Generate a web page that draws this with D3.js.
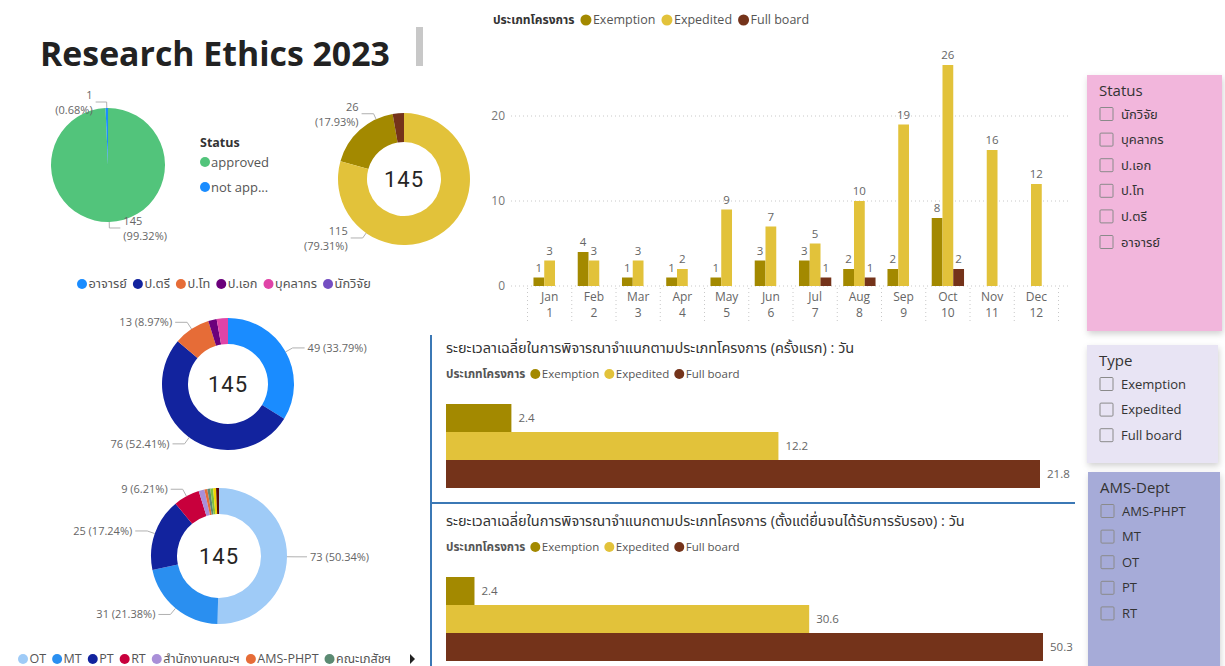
<!DOCTYPE html>
<html><head><meta charset="utf-8">
<script src="https://cdn.jsdelivr.net/npm/d3@7"></script>
<style>
body{margin:0;background:#fff;}
svg{display:block;}
</style></head><body>
<svg id="c" width="1225" height="666"></svg>
<script>
// ---------------- DATA ----------------
const statusNames = ["approved", "not app..."];
const statusCounts = [145, 1];

const typeNames = ["Exemption", "Expedited", "Full board"];
const typeCounts = [26, 115, 4];

const personNames = ["อาจารย์", "ป.ตรี", "ป.โท", "ป.เอก", "บุคลากร", "นักวิจัย"];
const personCounts = [49, 76, 13, 3, 4, 0];

const deptNames = ["OT", "MT", "PT", "RT", "สำนักงานคณะฯ", "AMS-PHPT", "คณะเภสัชฯ", "อื่นๆ 1", "อื่นๆ 2", "อื่นๆ 3"];
const deptCounts = [73, 31, 25, 9, 2, 1, 1, 1, 1, 1];
const deptLegendShown = 7;

const monthNames = ["Jan","Feb","Mar","Apr","May","Jun","Jul","Aug","Sep","Oct","Nov","Dec"];
const monthNums = ["1","2","3","4","5","6","7","8","9","10","11","12"];
const exemptionByMonth = [1, 4, 1, 1, 1, 3, 3, 2, 2, 8, 0, 0];
const expeditedByMonth = [3, 3, 3, 2, 9, 7, 5, 10, 19, 26, 16, 12];
const fullBoardByMonth = [0, 0, 0, 0, 0, 0, 1, 1, 0, 2, 0, 0];
const yTicks = [0, 10, 20];

const avgFirstReview = [2.4, 12.2, 21.8];
const avgToApproval = [2.4, 30.6, 50.3];

const slicerStatusItems = ["นักวิจัย", "บุคลากร", "ป.เอก", "ป.โท", "ป.ตรี", "อาจารย์"];
const slicerTypeItems = ["Exemption", "Expedited", "Full board"];
const slicerDeptItems = ["AMS-PHPT", "MT", "OT", "PT", "RT"];

// ---------------- STYLE ----------------
const FONT = "'Open Sans','Noto Sans','Noto Sans Thai',Tahoma,sans-serif";
const NUM = "'Open Sans','Noto Sans',sans-serif";
const statusColors = ["#52c47b", "#1a8cff"];
const typeColors = {"Exemption": "#a38900", "Expedited": "#e2c23a", "Full board": "#74331a"};
const personColors = ["#1a8cff", "#12239e", "#e66c37", "#6b007b", "#e044a7", "#744ec2"];
const deptColors = ["#9fcbf7", "#2a8ff0", "#12239e", "#c8003c", "#a98fd8", "#e66c37", "#5b8a72", "#7fc241", "#f2d600", "#5a0a0a"];

const svg = d3.select("#c");
const defs = svg.append("defs");
const sh = defs.append("filter").attr("id","sh").attr("x","-10%").attr("y","-10%").attr("width","130%").attr("height","130%");
sh.append("feDropShadow").attr("dx",1).attr("dy",3).attr("stdDeviation",3).attr("flood-color","#000").attr("flood-opacity",0.18);

// ---------------- TITLE ----------------
const title = svg.append("text").attr("x", 40).attr("y", 66)
  .attr("font-family", FONT).attr("font-weight", 700).attr("font-size", 32)
  .attr("fill", "#222").text("Research Ethics 2023");
const tl = title.node().getComputedTextLength();
title.attr("font-size", 32 * 350 / tl);
svg.append("rect").attr("x", 416).attr("y", 27).attr("width", 7).attr("height", 39).attr("fill", "#c8c8c8");

// ---------------- DONUT HELPER ----------------
const pct = d3.format(".2%");
function drawDonut(cfg) {
  const g = svg.append("g").attr("transform", `translate(${cfg.cx},${cfg.cy})`);
  const data = cfg.names.map((n, i) => ({n, v: cfg.values[i], c: cfg.colors[i]}));
  const pie = d3.pie().value(d => d.v).sort(cfg.sortDesc ? (a, b) => b.v - a.v : null);
  const arcs = pie(data);
  const arc = d3.arc().innerRadius(cfg.r0).outerRadius(cfg.r1);
  g.selectAll("path").data(arcs).join("path").attr("d", arc).attr("fill", d => d.data.c);
  const total = d3.sum(cfg.values);
  arcs.forEach(a => {
    const p = a.data.v / total;
    if (p < cfg.minPct) return;
    let ang = (a.startAngle + a.endAngle) / 2;
    if (cfg.angleOverride && cfg.angleOverride[a.data.n] != null) ang = cfg.angleOverride[a.data.n] * Math.PI / 180;
    const s = Math.sin(ang), c = -Math.cos(ang);
    const p1 = [s * cfg.r1, c * cfg.r1];
    const p2 = [s * (cfg.r1 + cfg.ext), c * (cfg.r1 + cfg.ext)];
    const right = s >= 0;
    const p3 = [p2[0] + (right ? cfg.hlen : -cfg.hlen), p2[1]];
    g.append("polyline").attr("points", [p1, p2, p3].map(q => q.join(",")).join(" "))
      .attr("fill", "none").attr("stroke", "#b0b0b0").attr("stroke-width", 1);
    const tx = p3[0] + (right ? 3 : -3);
    const anchor = right ? "start" : "end";
    if (cfg.twoLine) {
      const t = g.append("text").attr("font-family", NUM).attr("font-size", 11).attr("fill", "#666").attr("text-anchor", anchor);
      t.append("tspan").attr("x", tx).attr("y", p3[1] - 3).text(a.data.v);
      t.append("tspan").attr("x", tx).attr("y", p3[1] + 12).text("(" + pct(p) + ")");
    } else {
      g.append("text").attr("x", tx).attr("y", p3[1]).attr("dy", "0.35em")
        .attr("font-family", NUM).attr("font-size", 11).attr("fill", "#666").attr("text-anchor", anchor)
        .text(a.data.v + " (" + pct(p) + ")");
    }
  });
  if (cfg.center) {
    g.append("text").attr("text-anchor", "middle").attr("dy", "0.36em")
      .attr("font-family", "Roboto,'Open Sans',sans-serif").attr("font-size", 22).attr("fill", "#252423")
      .attr("letter-spacing", 1).text(total);
  }
}

// Pie 1 : status approved
drawDonut({cx: 108, cy: 165, r0: 0, r1: 57, names: statusNames, values: statusCounts, colors: statusColors,
  sortDesc: false, minPct: 0, ext: 6, hlen: 11, twoLine: true, center: false});
svg.append("text").attr("x", 200).attr("y", 143).attr("dy", "0.35em").attr("font-family", FONT)
  .attr("font-size", 12.5).attr("font-weight", 700).attr("fill", "#333").text("Status");
statusNames.forEach((n, i) => {
  const y = 162 + i * 25;
  svg.append("circle").attr("cx", 205).attr("cy", y).attr("r", 5).attr("fill", statusColors[i]);
  svg.append("text").attr("x", 211).attr("y", y).attr("dy", "0.35em").attr("font-family", FONT)
    .attr("font-size", 13).attr("fill", "#555").text(n);
});

// Donut 2 : project type
drawDonut({cx: 404, cy: 179, r0: 37, r1: 66, names: typeNames, values: typeCounts,
  colors: typeNames.map(n => typeColors[n]), sortDesc: true, minPct: 0.05, ext: 6, hlen: 12, twoLine: true,
  center: true, angleOverride: {"Exemption": 335, "Expedited": 215}});

// Legend helper (flowing)
function flowLegend(x, y, header, names, colors, opts) {
  let cx = x;
  if (header) {
    const h = svg.append("text").attr("x", cx).attr("y", y).attr("dy", "0.35em").attr("font-family", FONT)
      .attr("font-size", opts.hsize).attr("font-weight", 700).attr("fill", opts.hcolor || "#333").text(header);
    cx += h.node().getComputedTextLength() + opts.gap;
  }
  names.forEach((n, i) => {
    svg.append("circle").attr("cx", cx + opts.r).attr("cy", y).attr("r", opts.r).attr("fill", colors[i]);
    cx += opts.r * 2 + 1.5;
    const t = svg.append("text").attr("x", cx).attr("y", y).attr("dy", "0.35em").attr("font-family", FONT)
      .attr("font-size", opts.size).attr("fill", opts.color || "#555").text(n);
    cx += t.node().getComputedTextLength() + opts.gap;
  });
  return cx;
}

// Donut 3 : person status
flowLegend(77, 284, null, personNames, personColors, {size: 12.8, r: 5, gap: 6});
drawDonut({cx: 228, cy: 384, r0: 40, r1: 66, names: personNames, values: personCounts, colors: personColors,
  sortDesc: false, minPct: 0.05, ext: 8, hlen: 12, twoLine: false, center: true});

// Donut 4 : department
drawDonut({cx: 219, cy: 556, r0: 42, r1: 68, names: deptNames, values: deptCounts, colors: deptColors,
  sortDesc: false, minPct: 0.05, ext: 8, hlen: 12, twoLine: false, center: true});
flowLegend(18, 659, null, deptNames.slice(0, deptLegendShown), deptColors.slice(0, deptLegendShown),
  {size: 12.5, r: 5, gap: 6});
svg.append("path").attr("d", `M${410},${654} l5,5 l-5,5 z`).attr("fill", "#222");

// ---------------- MONTHLY BAR CHART ----------------
flowLegend(493, 20, "ประเภทโครงการ", typeNames, typeNames.map(n => typeColors[n]),
  {size: 12.5, hsize: 12, r: 5.5, gap: 6});
const monthly = monthNames.map((m, i) => ({m, num: monthNums[i],
  vals: [{k: "Exemption", v: exemptionByMonth[i]}, {k: "Expedited", v: expeditedByMonth[i]}, {k: "Full board", v: fullBoardByMonth[i]}]}));
const x0 = d3.scaleBand().domain(monthNames).range([527.5, 1058.5]).paddingInner(0.27).paddingOuter(0.135);
const x1 = d3.scaleBand().domain(typeNames).range([0, x0.bandwidth()]);
const y = d3.scaleLinear().domain([0, 28]).range([286, 48]);
const gB = svg.append("g");
yTicks.forEach(t => {
  gB.append("line").attr("x1", 511).attr("x2", 1071).attr("y1", y(t)).attr("y2", y(t))
    .attr("stroke", "#c8c8c8").attr("stroke-dasharray", "1,3");
  gB.append("text").attr("x", 505).attr("y", y(t)).attr("dy", "0.35em").attr("text-anchor", "end")
    .attr("font-family", NUM).attr("font-size", 12).attr("fill", "#777").text(t);
});
const step = x0.step();
d3.range(13).forEach(i => {
  const xx = 527.5 + i * step;
  gB.append("line").attr("x1", xx).attr("x2", xx).attr("y1", 288).attr("y2", 323)
    .attr("stroke", "#c8c8c8").attr("stroke-dasharray", "1,3");
});
const grp = gB.selectAll("g.m").data(monthly).join("g").attr("class", "m")
  .attr("transform", d => `translate(${x0(d.m)},0)`);
grp.selectAll("rect").data(d => d.vals).join("rect")
  .attr("x", d => x1(d.k)).attr("width", x1.bandwidth())
  .attr("y", d => y(d.v)).attr("height", d => y(0) - y(d.v))
  .attr("fill", d => typeColors[d.k]);
grp.selectAll("text.v").data(d => d.vals.filter(v => v.v > 0)).join("text").attr("class", "v")
  .attr("x", d => x1(d.k) + x1.bandwidth() / 2).attr("y", d => y(d.v) - 6)
  .attr("text-anchor", "middle").attr("font-family", NUM).attr("font-size", 11.5).attr("fill", "#666").text(d => d.v);
grp.append("text").attr("x", x0.bandwidth() / 2).attr("y", 297).attr("dy", "0.35em").attr("text-anchor", "middle")
  .attr("font-family", NUM).attr("font-size", 12).attr("fill", "#666").text(d => d.m);
grp.append("text").attr("x", x0.bandwidth() / 2).attr("y", 313).attr("dy", "0.35em").attr("text-anchor", "middle")
  .attr("font-family", NUM).attr("font-size", 12).attr("fill", "#666").text(d => d.num);

// ---------------- SEPARATOR LINES ----------------
svg.append("line").attr("x1", 431).attr("x2", 431).attr("y1", 335).attr("y2", 666).attr("stroke", "#3b78b5").attr("stroke-width", 2);
svg.append("line").attr("x1", 431).attr("x2", 1075).attr("y1", 503).attr("y2", 503).attr("stroke", "#3b78b5").attr("stroke-width", 2);

// ---------------- HORIZONTAL BAR CHARTS ----------------
function hbar(top, titleText, values, xEnd) {
  svg.append("text").attr("x", 446).attr("y", top).attr("dy", "0.35em").attr("font-family", FONT)
    .attr("font-size", 14.5).attr("fill", "#333").text(titleText);
  flowLegend(446, top + 26, "ประเภทโครงการ", typeNames, typeNames.map(n => typeColors[n]),
    {size: 11.5, hsize: 11.7, r: 5, gap: 5, hcolor: "#555"});
  const yb = d3.scaleBand().domain(typeNames).range([top + 56, top + 140]);
  const xs = d3.scaleLinear().domain([0, d3.max(values)]).range([446, xEnd]);
  const data = typeNames.map((k, i) => ({k, v: values[i]}));
  svg.selectAll(null).data(data).join("rect")
    .attr("x", xs(0)).attr("y", d => yb(d.k)).attr("height", yb.bandwidth())
    .attr("width", d => xs(d.v) - xs(0)).attr("fill", d => typeColors[d.k]);
  svg.selectAll(null).data(data).join("text")
    .attr("x", d => xs(d.v) + 7).attr("y", d => yb(d.k) + yb.bandwidth() / 2).attr("dy", "0.35em")
    .attr("font-family", NUM).attr("font-size", 11.5).attr("fill", "#666").text(d => d.v);
}
hbar(348, "ระยะเวลาเฉลี่ยในการพิจารณาจำแนกตามประเภทโครงการ (ครั้งแรก) : วัน", avgFirstReview, 1040);
hbar(521, "ระยะเวลาเฉลี่ยในการพิจารณาจำแนกตามประเภทโครงการ (ตั้งแต่ยื่นจนได้รับการรับรอง) : วัน", avgToApproval, 1043);

// ---------------- SLICERS ----------------
function slicer(x, y0, w, h, fill, titleText, items) {
  svg.append("rect").attr("x", x).attr("y", y0).attr("width", w).attr("height", h).attr("fill", fill).attr("filter", "url(#sh)");
  svg.append("text").attr("x", x + 12).attr("y", y0 + 16).attr("dy", "0.35em").attr("font-family", FONT)
    .attr("font-size", 15).attr("fill", "#333").text(titleText);
  items.forEach((it, i) => {
    const yy = y0 + 39 + i * 25.6;
    svg.append("rect").attr("x", x + 13).attr("y", yy - 6.5).attr("width", 13).attr("height", 13)
      .attr("fill", "none").attr("stroke", "#8a8a8a").attr("stroke-width", 1).attr("rx", 1);
    svg.append("text").attr("x", x + 34).attr("y", yy).attr("dy", "0.35em").attr("font-family", FONT)
      .attr("font-size", 13).attr("fill", "#333").text(it);
  });
}
slicer(1087, 75, 135, 256, "#f2b6dc", "Status", slicerStatusItems);
slicer(1087, 345, 131, 118, "#e8e4f4", "Type", slicerTypeItems);
slicer(1088, 472, 132, 200, "#a6abd8", "AMS-Dept", slicerDeptItems);
</script>
</body></html>
